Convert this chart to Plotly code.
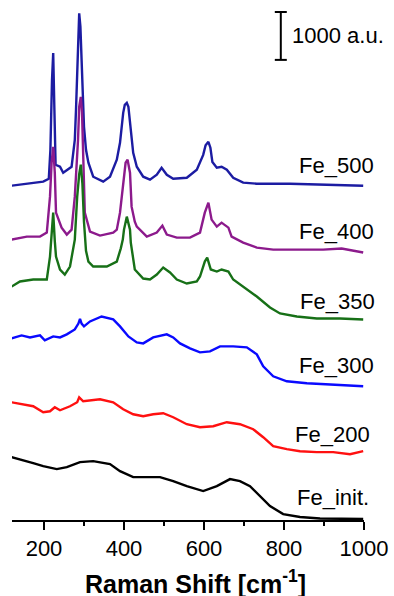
import plotly.graph_objects as go

# ---- data (Raman shift in cm^-1, intensity in a.u., stacked as in the figure) ----
fe500_x = [119, 140, 173, 198, 212, 216, 220, 223, 226, 229, 240, 248, 269, 277, 280, 283, 286, 288, 291, 293,
           297, 300, 305, 311, 323, 348, 365, 382, 390, 394, 398, 402, 407, 411, 415, 419, 423, 432, 448, 465,
           482, 494, 507, 523, 557, 582, 598, 604, 611, 616, 621, 632, 644, 657, 673, 698, 732, 815, 898, 998]
fe500_y = [6957, 6978, 7020, 7041, 7100, 7707, 9165, 9728, 8540, 7395, 7353, 7228, 7353, 7915, 8540, 9444, 10207, 10555, 10276, 9790,
           8894, 8186, 7707, 7436, 7145, 7041, 7145, 7499, 7853, 8186, 8478, 8644, 8686, 8603, 8270, 7915, 7645, 7353, 7145, 7082,
           7186, 7332, 7186, 7103, 7124, 7290, 7600, 7800, 7874, 7750, 7450, 7332, 7353, 7290, 7124, 7020, 6999, 6999, 6978, 6957]

fe400_x = [119, 157, 190, 207, 215, 219, 223, 227, 230, 244, 257, 269, 277, 282, 285, 288, 292, 295, 298, 302,
           315, 340, 373, 382, 390, 398, 404, 409, 415, 419, 427, 432, 457, 482, 496, 507, 532, 565, 590, 602,
           611, 619, 632, 644, 661, 669, 698, 732, 773, 815, 898, 944, 998]
fe400_y = [5832, 5895, 5895, 5978, 6728, 7436, 7770, 7228, 6395, 6082, 5937, 6041, 6728, 7400, 7900, 8600, 8811, 8500, 7700, 6395,
           5999, 5916, 5978, 6041, 6395, 7020, 7436, 7499, 7228, 6520, 6207, 6103, 5895, 5978, 6124, 5937, 5874, 5874, 5978, 6395,
           6603, 6249, 6103, 6186, 6082, 5895, 5770, 5666, 5624, 5624, 5624, 5645, 5562]

fe350_x = [119, 140, 173, 207, 215, 219, 223, 227, 230, 240, 252, 265, 277, 283, 288, 292, 296, 300, 305, 311,
           323, 357, 382, 392, 397, 400, 407, 415, 417, 427, 448, 465, 482, 498, 515, 532, 557, 582, 590, 602,
           608, 617, 632, 644, 661, 673, 698, 732, 765, 790, 832, 882, 940, 998]
fe350_y = [4853, 4958, 4999, 4999, 5478, 6000, 6395, 5800, 5478, 5208, 5103, 5270, 5832, 6728, 7200, 7395, 7000, 6200, 5600, 5374,
           5270, 5270, 5374, 5650, 5832, 6041, 6311, 6041, 5770, 5208, 5020, 4999, 5103, 5249, 5145, 4999, 4916, 4958, 5062, 5374,
           5457, 5208, 5166, 5208, 5166, 4999, 4853, 4645, 4416, 4291, 4228, 4187, 4187, 4166]

fe300_x = [119, 144, 165, 190, 202, 223, 240, 257, 277, 286, 290, 294, 300, 315, 344, 373, 390, 411, 432, 448,
           473, 507, 523, 540, 565, 590, 615, 640, 673, 707, 732, 748, 773, 807, 857, 915, 998]
fe300_y = [3770, 3833, 3791, 3833, 3729, 3812, 3791, 3854, 3958, 4080, 4180, 4080, 4020, 4124, 4228, 4166, 4020, 3812, 3687, 3666,
           3791, 3854, 3791, 3666, 3562, 3479, 3499, 3604, 3604, 3583, 3437, 3187, 2979, 2875, 2833, 2812, 2770]

fe200_x = [119, 148, 173, 198, 215, 227, 240, 265, 283, 288, 298, 340, 373, 398, 423, 448, 473, 498, 523, 557,
           590, 623, 657, 690, 723, 748, 773, 807, 840, 882, 923, 965, 998]
fe200_y = [2437, 2395, 2354, 2229, 2250, 2333, 2270, 2354, 2437, 2541, 2458, 2500, 2437, 2291, 2187, 2145, 2187, 2208, 2125, 1979,
           1916, 1937, 2021, 1979, 1875, 1708, 1521, 1458, 1416, 1396, 1396, 1354, 1416]

feinit_x = [119, 148, 173, 198, 232, 257, 290, 323, 365, 390, 423, 457, 490, 523, 557, 598, 632, 665, 690, 715,
            740, 765, 798, 840, 890, 998]
feinit_y = [1291, 1229, 1166, 1104, 1042, 1083, 1187, 1208, 1146, 1000, 875, 875, 875, 792, 687, 583, 687, 833, 792, 687,
            479, 271, 104, 42, 10, 0]

series_names = ["Fe_500", "Fe_400", "Fe_350", "Fe_300", "Fe_200", "Fe_init."]
series_x = [fe500_x, fe400_x, fe350_x, fe300_x, fe200_x, feinit_x]
series_y = [fe500_y, fe400_y, fe350_y, fe300_y, fe200_y, feinit_y]
series_colors = ["#1c1ca2", "#8c1a8c", "#177017", "#0a0aff", "#ff1010", "#000000"]
label_x = [832, 832, 835, 832, 823, 827]
label_y = [7374, 5999, 4541, 3208, 1771, 458]

tick_vals = [200, 400, 600, 800, 1000]
tick_text = ["200", "400", "600", "800", "1000"]
x_title = "<b>Raman Shift [cm<sup>-1</sup>]</b>"

scale_x = 792
scale_y0 = 9583
scale_len = 1000
scale_label = "1000 a.u."

FONT = "Liberation Sans, Arial, sans-serif"

fig = go.Figure()
for name, xs, ys, c in zip(series_names, series_x, series_y, series_colors):
    fig.add_trace(go.Scatter(x=xs, y=ys, mode="lines", name=name,
                             line=dict(color=c, width=2.4), showlegend=False))

for name, lx, ly in zip(series_names, label_x, label_y):
    fig.add_annotation(x=lx, y=ly, text=name, showarrow=False, xanchor="left", yanchor="middle",
                       font=dict(family=FONT, size=22, color="black"))

# scale bar
fig.add_shape(type="line", x0=scale_x, x1=scale_x, y0=scale_y0, y1=scale_y0 + scale_len,
              line=dict(color="black", width=2))
for yy in (scale_y0, scale_y0 + scale_len):
    fig.add_shape(type="line", x0=scale_x - 15, x1=scale_x + 15, y0=yy, y1=yy,
                  line=dict(color="black", width=2))
fig.add_annotation(x=scale_x + 22, y=scale_y0 + scale_len / 2, text=scale_label, showarrow=False,
                   xanchor="left", yanchor="middle", font=dict(family=FONT, size=22, color="black"))

# axis title (placed as in the reference, slightly right of plot centre)
fig.add_annotation(x=0.52, y=-0.119, xref="paper", yref="paper", text=x_title, showarrow=False,
                   xanchor="center", yanchor="middle", font=dict(family=FONT, size=25, color="black"))

fig.update_layout(
    width=394, height=596,
    margin=dict(l=12, r=30, t=0, b=76),
    paper_bgcolor="white", plot_bgcolor="white",
    xaxis=dict(range=[120, 1000], tickvals=tick_vals, ticktext=tick_text,
               showline=True, linecolor="black", linewidth=1.5,
               ticks="outside", ticklen=8, tickwidth=1.5, tickcolor="black",
               minor=dict(dtick=100, tick0=100, ticks="outside", ticklen=4, tickwidth=1.5, tickcolor="black"),
               showgrid=False, zeroline=False,
               tickfont=dict(family=FONT, size=22, color="black")),
    yaxis=dict(range=[-20, 10833], visible=False, showgrid=False, zeroline=False),
)

fig.write_html("out.html")
